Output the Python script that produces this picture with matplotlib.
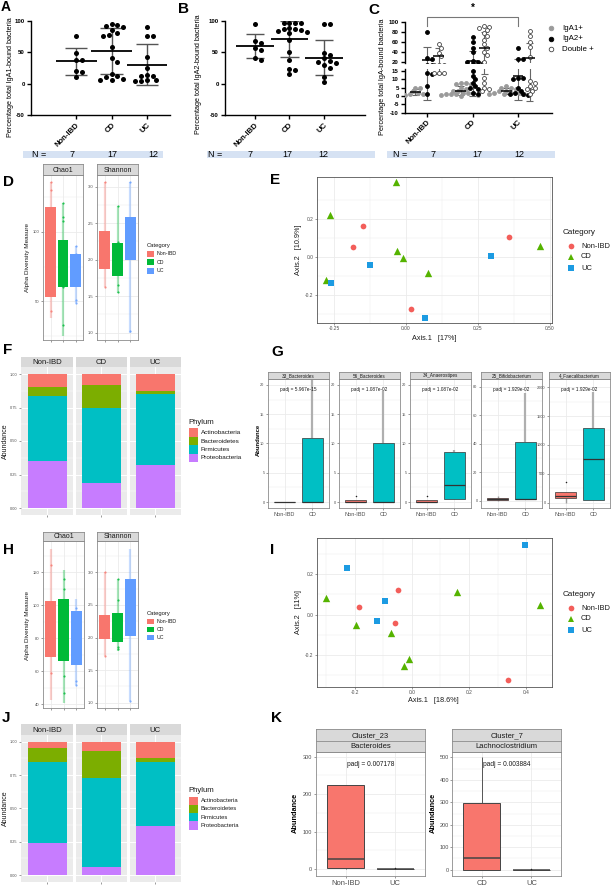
import numpy as np
import matplotlib
matplotlib.use('Agg')
import matplotlib.pyplot as plt
from matplotlib.patches import Rectangle
from matplotlib.lines import Line2D
from matplotlib.ticker import FixedLocator

plt.rcParams['font.family'] = ['Liberation Sans', 'DejaVu Sans']

# ======================= DATA =======================
categories = ['Non-IBD', 'CD', 'UC']
group_n = ['7', '17', '12']

# A: percentage total IgA1-bound bacteria
iga1_nonibd = [75, 49, 37, 37, 20, 19, 10]
iga1_cd = [95, 93, 92, 90, 85, 80, 78, 76, 58, 40, 35, 15, 12, 10, 8, 6, 5]
iga1_uc = [90, 75, 75, 42, 25, 13, 12, 12, 5, 4, 4, 5]
# B: percentage total IgA2-bound bacteria
iga2_nonibd = [95, 68, 64, 57, 53, 40, 38]
iga2_cd = [97, 97, 97, 96, 88, 87, 87, 85, 83, 82, 80, 70, 50, 38, 23, 22, 15]
iga2_uc = [95, 94, 49, 45, 40, 36, 35, 33, 30, 25, 10, 2]
# C: IgA1+, IgA2+, Double+
c_iga1_nonibd = [5, 4.5, 3, 2, 1.5, 1, 0.5]
c_iga1_cd = [8, 8, 7, 7, 5, 4, 3, 3, 2, 2, 2, 1, 1, 1, 0.5, 0.5, 0]
c_iga1_uc = [6, 5, 5, 4, 3, 3, 2, 2, 2, 1, 1, 1]
c_iga2_nonibd = [80, 28, 25, 14, 13, 6, 1]
c_iga2_cd = [71, 60, 48, 40, 22, 20, 19, 18, 15, 12, 10, 8, 6, 5, 4, 2, 1]
c_iga2_uc = [48, 26, 25, 11, 11, 10, 5, 3, 2, 1, 1, 0.5]
c_dbl_nonibd = [55, 48, 38, 32, 14, 14, 14]
c_dbl_cd = [92, 91, 88, 85, 78, 72, 65, 55, 48, 40, 34, 20, 11, 8, 5, 4, 3]
c_dbl_uc = [82, 73, 60, 50, 30, 9, 8, 6, 5, 4, 3, 1]
c_series = ['IgA1+', 'IgA2+', 'Double +']

# D: alpha diversity (cohort 1)
d_chao1_q1 = [53, 60, 60]
d_chao1_q3 = [118, 94, 84]
d_chao1_lo = [38, 25, 49]
d_chao1_hi = [136, 121, 90]
d_chao1_pts = [[136, 130, 43], [121, 111, 108, 60, 33], [90, 84, 51, 49]]
d_shan_q1 = [1.87, 1.77, 2.0]
d_shan_q3 = [2.39, 2.23, 2.58]
d_shan_lo = [1.63, 1.55, 1.0]
d_shan_hi = [3.07, 2.74, 3.07]
d_shan_pts = [[3.07, 1.63], [2.74, 2.24, 1.65, 1.56], [3.07, 1.02]]

# E: PCoA (cohort 1)
e_nonibd_x = [-0.149, -0.184, 0.358, 0.017]
e_nonibd_y = [0.165, 0.054, 0.104, -0.275]
e_cd_x = [-0.036, -0.264, -0.030, -0.010, 0.077, -0.279, 0.464]
e_cd_y = [0.396, 0.221, 0.033, -0.004, -0.083, -0.121, 0.058]
e_uc_x = [-0.125, -0.26, 0.294, 0.066]
e_uc_y = [-0.042, -0.139, 0.005, -0.32]

# F / J: phylum relative abundance (Non-IBD, CD, UC)
phyla = ['Actinobacteria', 'Bacteroidetes', 'Firmicutes', 'Proteobacteria']
f_actino = [0.095, 0.085, 0.125]
f_bacter = [0.07, 0.17, 0.025]
f_firmic = [0.485, 0.558, 0.53]
f_proteo = [0.35, 0.187, 0.32]
j_actino = [0.05, 0.07, 0.12]
j_bacter = [0.10, 0.20, 0.03]
j_firmic = [0.613, 0.6675, 0.483]
j_proteo = [0.237, 0.0625, 0.367]

# G: differential taxa (Non-IBD vs CD); box stats q1, median, q3, low, high
g_titles = ['33_Bacteroides', '56_Bacteroides', '34_Anaerostipes', '25_Bifidobacterium', '4_Faecalibacterium']
g_padj = ['padj = 5.967e-15', 'padj = 1.087e-02', 'padj = 1.087e-02', 'padj = 1.929e-02', 'padj = 1.929e-02']
g_nonibd_stats = [[0, 0, 0, 0, 0], [0, 0.1, 0.3, 0, 0.3], [0, 0.1, 0.3, 0, 0.3], [0.3, 1, 2.1, 0, 3.5], [81, 120, 190, 0, 190]]
g_nonibd_out = [[], [1.0], [1.0], [], [367]]
g_cd_stats = [[0, 0, 11, 0, 30], [0, 0, 10, 0, 19], [0.5, 3, 8.5, 0.5, 8.9], [1, 1, 41, 1, 76], [50, 750, 1298, 50, 1919]]
g_ylims = [(-1, 21), (-1, 21), (-1, 21), (-5, 85.5), (-90, 2140)]
g_yticks = [[0, 5, 10, 15, 20], [0, 5, 10, 15, 20], [0, 5, 10, 15, 20], [0, 20, 40, 60, 80], [0, 500, 1000, 1500, 2000]]

# H: alpha diversity (cohort 2)
h_chao1_q1 = [68.7, 66.3, 64]
h_chao1_q3 = [102.7, 103.8, 96.7]
h_chao1_lo = [42.5, 41, 52]
h_chao1_hi = [134, 121, 104]
h_chao1_pts = [[124, 59], [116, 110, 57, 47], [98, 54, 52]]
h_shan_q1 = [1.98, 1.93, 2.03]
h_shan_q3 = [2.34, 2.38, 2.9]
h_shan_lo = [1.72, 1.8, 1.02]
h_shan_hi = [3.0, 2.9, 3.36]
h_shan_pts = [[3.0, 1.72], [2.9, 2.57, 1.85, 1.82], [1.02]]

# I: PCoA (cohort 2)
i_nonibd_x = [-0.184, -0.049, -0.061, 0.337]
i_nonibd_y = [0.035, 0.12, -0.044, -0.324]
i_cd_x = [-0.3, 0.158, 0.449, -0.196, -0.074, -0.012, -0.029]
i_cd_y = [0.084, 0.11, 0.046, -0.053, -0.089, -0.221, -0.255]
i_uc_x = [-0.228, -0.094, 0.396, -0.124]
i_uc_y = [0.232, 0.067, 0.342, -0.032]

# K: clusters
k_titles = [('Cluster_23', 'Bacteroides'), ('Cluster_7', 'Lachnoclostridium')]
k_cats = [['Non-IBD', 'UC'], ['CD', 'UC']]
k_padj = ['padj = 0.007178', 'padj = 0.003884']
k_box1_stats = [[3, 28, 225, 0, 225], [0, 0, 0, 0, 0]]
k_box2_stats = [[0, 52, 298, 0, 502], [0, 0, 0, 0, 0]]
k_ylims = [(-18, 313), (-28, 525)]
k_yticks = [[0, 100, 200, 300], [0, 100, 200, 300, 400, 500]]

# ======================= STYLE =======================
GG3 = ['#F8766D', '#00BA38', '#619CFF']
PCOA = ['#F35E5A', '#55B300', '#1C9BE2']
PHY = ['#F8766D', '#7CAE00', '#00BFC4', '#C77CFF']

W, H = 615, 886
fig = plt.figure(figsize=(W / 100, H / 100), dpi=100)


def add_ax(x0, y0, x1, y1):
    return fig.add_axes([x0 / W, 1 - y1 / H, (x1 - x0) / W, (y1 - y0) / H])


def ftext(x, y, s, **kw):
    return fig.text(x / W, 1 - y / H, s, **kw)


def frect(x0, y0, x1, y1, color):
    fig.add_artist(Rectangle((x0 / W, 1 - y1 / H), (x1 - x0) / W, (y1 - y0) / H,
                             transform=fig.transFigure, facecolor=color, edgecolor='none'))


def fmark(x, y, **kw):
    fig.add_artist(Line2D([x / W], [1 - y / H], transform=fig.transFigure, linestyle='none', **kw))


def swarm(ypx, sx, d, step=0.55):
    ypx = np.asarray(ypx, float)
    order = np.argsort(ypx)[::-1]
    placed = []
    off = np.zeros(len(ypx))
    cands = [0.0]
    for k in range(1, 40):
        cands += [k * d * step, -k * d * step]
    for idx in order:
        y = ypx[idx]
        for c in cands:
            if all((c - px) ** 2 + (y - py) ** 2 >= (0.9 * d) ** 2 for px, py in placed):
                break
        placed.append((c, y))
        off[idx] = c / sx
    return off


def prism_axes(ax):
    for s in ['top', 'right']:
        ax.spines[s].set_visible(False)
    for s in ['left', 'bottom']:
        ax.spines[s].set_linewidth(1.0)
    ax.tick_params(length=3, width=1.0, pad=1.5)


def prism_panel(ax, groups, xlim, mean_w, cap_w, px_per_x, px_per_y):
    ax.set_xlim(*xlim)
    ax.set_ylim(-50, 100)
    for i, vals in enumerate(groups):
        v = np.asarray(vals, float)
        off = swarm(v * px_per_y, px_per_x, 5.3)
        ax.scatter(i + 1 + off, v, s=13, color='black', lw=0, zorder=3, clip_on=False)
        m, sd = v.mean(), v.std(ddof=1)
        ax.hlines(m, i + 1 - mean_w / 2, i + 1 + mean_w / 2, color='black', lw=1.3, zorder=4)
        ax.vlines(i + 1, m - sd, m + sd, color='#555555', lw=1.0, zorder=2)
        ax.hlines([m - sd, m + sd], i + 1 - cap_w / 2, i + 1 + cap_w / 2, color='#555555', lw=1.0, zorder=2)
    ax.set_yticks([-50, 0, 50, 100])
    ax.set_yticklabels(['-50', '0', '50', '100'], fontsize=4.4, fontweight='bold')
    ax.set_xticks([1, 2, 3])
    ax.set_xticklabels(categories, rotation=45, ha='right', va='top', rotation_mode='anchor',
                       fontsize=5.6, fontweight='bold')
    prism_axes(ax)


def gg_axes(ax, bg='white', grid='#EBEBEB', border='#8C8C8C', blw=0.6, fs=3.0, major_lw=0.6, minor_lw=0.3):
    ax.set_facecolor(bg)
    ax.set_axisbelow(True)
    ax.grid(True, which='major', color=grid, lw=major_lw)
    ax.grid(True, which='minor', color=grid, lw=minor_lw)
    for s in ax.spines.values():
        if border is None:
            s.set_visible(False)
        else:
            s.set_color(border)
            s.set_linewidth(blw)
    ax.tick_params(which='major', length=1.5, width=0.4, color='#4D4D4D', labelcolor='#4D4D4D',
                   labelsize=fs, pad=1)
    ax.tick_params(which='minor', length=0)


def strip(x0, y0, x1, y1, text, fs, border='#8C8C8C'):
    s = add_ax(x0, y0, x1, y1)
    s.set_facecolor('#D9D9D9')
    s.set_xticks([])
    s.set_yticks([])
    for sp in s.spines.values():
        if border:
            sp.set_color(border)
            sp.set_linewidth(0.6)
        else:
            sp.set_visible(False)
    s.text(0.5, 0.45, text, ha='center', va='center', fontsize=fs, color='#1A1A1A', transform=s.transAxes)
    return s


def alpha_panel(ax, q1, q3, lo, hi, pts, ylim, yticks, ylabels, minor):
    ax.set_xlim(0.4, 3.6)
    ax.set_ylim(*ylim)
    ax.set_xticks([1, 2, 3])
    ax.set_xticklabels(['', '', ''])
    ax.set_yticks(yticks)
    ax.set_yticklabels(ylabels)
    ax.yaxis.set_minor_locator(FixedLocator(minor))
    gg_axes(ax, fs=3.0)
    for i in range(3):
        ax.vlines(i + 1, lo[i], hi[i], color=GG3[i], alpha=0.35, lw=1.6, zorder=2)
        ax.bar(i + 1, q3[i] - q1[i], bottom=q1[i], width=0.82, color=GG3[i], zorder=3)
        ax.scatter(np.full(len(pts[i]), i + 1), pts[i], s=2.5, color=GG3[i], alpha=0.8, lw=0, zorder=4)


def category_legend(x, y, fs_title, fs, dy):
    ftext(x, y, 'Category', fontsize=fs_title, va='center', ha='left', color='#1A1A1A')
    for i, c in enumerate(categories):
        yy = y + (i + 1) * dy
        frect(x, yy - dy * 0.35, x + 6.5, yy + dy * 0.35, GG3[i])
        ftext(x + 10, yy, c, fontsize=fs, va='center', ha='left', color='#1A1A1A')


def pcoa(ax, xs, ys, xlim, ylim, xt, xtl, yt, ytl, xmin_, ymin_):
    markers = ['o', '^', 's']
    sizes = [17, 28, 17]
    for i in range(3):
        ax.scatter(xs[i], ys[i], marker=markers[i], s=sizes[i], color=PCOA[i], lw=0, zorder=3)
    ax.set_xlim(*xlim)
    ax.set_ylim(*ylim)
    ax.set_xticks(xt)
    ax.set_xticklabels(xtl)
    ax.set_yticks(yt)
    ax.set_yticklabels(ytl)
    ax.xaxis.set_minor_locator(FixedLocator(xmin_))
    ax.yaxis.set_minor_locator(FixedLocator(ymin_))
    gg_axes(ax, border='#555555', fs=3.5)


def pcoa_legend(x, y):
    ftext(x - 4, y, 'Category', fontsize=5.9, va='center', ha='left', color='#1A1A1A')
    markers = ['o', '^', 's']
    ms = [4.1, 5.0, 4.1]
    for i, c in enumerate(categories):
        yy = y + 14 + i * 11
        fmark(x + 4, yy, marker=markers[i], markersize=ms[i], color=PCOA[i], markeredgewidth=0)
        ftext(x + 14, yy, c, fontsize=5.4, va='center', ha='left', color='#1A1A1A')


def phylum_facets(y0, y1, sy0, vals, leg_x, leg_y, key_h, leg_fs, title_fs):
    xs = [(21, 73), (75.5, 127), (129.5, 181)]
    for g in range(3):
        ax = add_ax(xs[g][0], y0, xs[g][1], y1)
        bottom = 0.0
        for p in [3, 2, 1, 0]:
            ax.bar(1, vals[p][g], bottom=bottom, width=0.9, color=PHY[p], zorder=3)
            bottom += vals[p][g]
        ax.set_xlim(0.4, 1.6)
        ax.set_ylim(-0.05, 1.05)
        ax.set_xticks([1])
        ax.set_xticklabels([''])
        ax.set_yticks([0, 0.25, 0.5, 0.75, 1.0])
        ax.yaxis.set_minor_locator(FixedLocator([0.125, 0.375, 0.625, 0.875]))
        gg_axes(ax, bg='#EBEBEB', grid='white', border=None, fs=2.8, major_lw=0.7, minor_lw=0.35)
        if g == 0:
            ax.set_yticklabels(['0.00', '0.25', '0.50', '0.75', '1.00'])
        else:
            ax.set_yticklabels([])
            ax.tick_params(axis='y', length=0)
        strip(xs[g][0], sy0, xs[g][1], y0, categories[g], 5.6, border=None)
    ftext(5, (y0 + y1) / 2, 'Abundance', rotation=90, fontsize=5.0, va='center', ha='center', color='#1A1A1A')
    ftext(leg_x, leg_y, 'Phylum', fontsize=title_fs, va='center', ha='left', color='#1A1A1A')
    for i, ph in enumerate(phyla):
        top = leg_y + 6.5 + i * key_h
        frect(leg_x + 1, top, leg_x + 10, top + key_h, PHY[i])
        ftext(leg_x + 12.5, top + key_h / 2, ph, fontsize=leg_fs, va='center', ha='left', color='#1A1A1A')


def box(ax, x, st, fill, wcol, wlw, edge='#333333', elw=0.5, outl=()):
    q1, med, q3, lo, hi = st
    ax.vlines(x, q3, hi, color=wcol, lw=wlw, zorder=2)
    ax.vlines(x, lo, q1, color=wcol, lw=wlw, zorder=2)
    ax.add_patch(Rectangle((x - 0.375, q1), 0.75, q3 - q1, facecolor=fill, edgecolor=edge, lw=elw, zorder=3))
    ax.hlines(med, x - 0.375, x + 0.375, color=edge, lw=elw + 0.4, zorder=4)
    if len(outl):
        ax.scatter(np.full(len(outl), x), outl, s=1.2, color='#222222', lw=0, zorder=5)


# ======================= PANELS A, B =======================
axA = add_ax(31, 20.7, 170, 115)
prism_panel(axA, [iga1_nonibd, iga1_cd, iga1_uc], (-0.276, 3.65), 1.15, 0.63, 35.5, 0.629)
ftext(10.5, 77, 'Percentage total IgA1-bound bacteria', rotation=90, fontsize=5.2, va='center', ha='center')

axB = add_ax(225, 20.7, 365, 115)
prism_panel(axB, [iga2_nonibd, iga2_cd, iga2_uc], (0.13, 4.19), 1.1, 0.53, 34.5, 0.629)
ftext(198, 74, 'Percentage total IgA2-bound bacteria', rotation=90, fontsize=5.2, va='center', ha='center')

# ======================= PANEL C =======================
axCt = add_ax(405, 22.3, 552, 63.2)
axCb = add_ax(405, 69.3, 552, 112.7)
c_groups = [[c_iga1_nonibd, c_iga1_cd, c_iga1_uc],
            [c_iga2_nonibd, c_iga2_cd, c_iga2_uc],
            [c_dbl_nonibd, c_dbl_cd, c_dbl_uc]]
c_offsets = [-0.26, 0.0, 0.26]
c_face = ['#9A9A9A', 'black', 'white']
c_edge = ['#9A9A9A', 'black', '#444444']


def c_ypx(v):
    v = np.asarray(v, float)
    return np.where(v < 16, v * 1.669, 16 * 1.669 + 6 + (v - 16) * 0.4928)


for s_i, series in enumerate(c_groups):
    for g, vals in enumerate(series):
        v = np.asarray(vals, float)
        off = swarm(c_ypx(v), 45.5, 4.2, step=0.6)
        x0 = g + 1 + c_offsets[s_i]
        m, sd = v.mean(), v.std(ddof=1)
        for ax in (axCt, axCb):
            ax.scatter(x0 + off, v, s=8, facecolor=c_face[s_i], edgecolor=c_edge[s_i], lw=0.6, zorder=3)
            ax.hlines(m, x0 - 0.12, x0 + 0.12, color='black', lw=1.1, zorder=4)
            ax.vlines(x0, m - sd, m + sd, color='#666666', lw=0.8, zorder=2)
            ax.hlines([m - sd, m + sd], x0 - 0.08, x0 + 0.08, color='#666666', lw=0.8, zorder=2)

for ax in (axCt, axCb):
    ax.set_xlim(0.516, 3.747)
    prism_axes(ax)
axCt.set_ylim(17, 100)
axCb.set_ylim(-10, 16)
axCt.spines['bottom'].set_visible(False)
axCt.set_xticks([])
axCt.set_yticks([20, 40, 60, 80, 100])
axCt.set_yticklabels(['20', '40', '60', '80', '100'], fontsize=4.4, fontweight='bold')
axCb.set_yticks([-10, -5, 0, 5, 10, 15])
axCb.set_yticklabels(['-10', '-5', '0', '5', '10', '15'], fontsize=4.4, fontweight='bold')
axCb.set_xticks([1, 2, 3])
axCb.set_xticklabels(categories, rotation=45, ha='right', va='top', rotation_mode='anchor',
                     fontsize=5.6, fontweight='bold')
axCt.plot([1, 1, 3, 3], [92.5, 111.4, 111.4, 92.5], color='#777777', lw=0.8, clip_on=False)
axCt.text(2, 129, '*', ha='center', va='center', fontsize=7, fontweight='bold')
ftext(383, 77, 'Percentage total IgA-bound bacteria', rotation=90, fontsize=5.3, va='center', ha='center')
for i, lab in enumerate(c_series):
    yy = 28.3 + i * 10.5
    fmark(550.7, yy, marker='o', markersize=3.3, markerfacecolor=c_face[i], markeredgecolor=c_edge[i],
          markeredgewidth=0.6)
    ftext(562, yy, lab, fontsize=5.7, va='center', ha='left')

# N = row
band_x = [(23, 163), (207, 375), (387, 555)]
n_lbl_x = [32, 208, 393]
n_pos = [[72, 112, 153], [250, 287, 323], [433, 477, 519]]
for b in range(3):
    frect(band_x[b][0], 150.7, band_x[b][1], 158.3, '#D6E2F3')
    ftext(n_lbl_x[b], 154.5, 'N =', fontsize=6.5, va='center', ha='left')
    for k in range(3):
        ftext(n_pos[b][k], 154.5, group_n[k], fontsize=6.5, va='center', ha='center')

# ======================= PANEL D =======================
axD1 = add_ax(43, 175, 83, 340)
alpha_panel(axD1, d_chao1_q1, d_chao1_q3, d_chao1_lo, d_chao1_hi, d_chao1_pts, (22, 141),
            [50, 100], ['50', '100'], [25, 75, 125])
strip(43, 164, 83, 175, 'Chao1', 5.0)
axD2 = add_ax(97, 175, 138, 340)
alpha_panel(axD2, d_shan_q1, d_shan_q3, d_shan_lo, d_shan_hi, d_shan_pts, (0.9, 3.16),
            [1.0, 1.5, 2.0, 2.5, 3.0], ['1.0', '1.5', '2.0', '2.5', '3.0'], [1.25, 1.75, 2.25, 2.75])
strip(97, 164, 138, 175, 'Shannon', 5.0)
ftext(28, 258, 'Alpha Diversity Measure', rotation=90, fontsize=4.6, va='center', ha='center', color='#1A1A1A')
category_legend(147, 245.5, 4.2, 3.8, 8.4)

# ======================= PANEL E =======================
axE = add_ax(317, 177, 552, 323)
pcoa(axE, [e_nonibd_x, e_cd_x, e_uc_x], [e_nonibd_y, e_cd_y, e_uc_y], (-0.309, 0.507), (-0.347, 0.42),
     [-0.25, 0, 0.25, 0.5], ['-0.25', '0.00', '0.25', '0.50'], [-0.2, 0, 0.2], ['-0.2', '0.0', '0.2'],
     [-0.125, 0.125, 0.375], [-0.3, -0.1, 0.1, 0.3])
ftext(434, 339, 'Axis.1   [17%]', fontsize=5.2, va='center', ha='center', color='#1A1A1A')
ftext(298, 250, 'Axis.2   [10.9%]', rotation=90, fontsize=5.2, va='center', ha='center', color='#1A1A1A')
pcoa_legend(567, 232)

# ======================= PANEL F =======================
phylum_facets(367.3, 514.7, 357, [f_actino, f_bacter, f_firmic, f_proteo], 188, 422, 8.4, 4.6, 5.6)

# ======================= PANEL G =======================
g_x = [(268, 329), (339, 400), (410, 471), (481, 542), (549, 610)]
for p in range(5):
    ax = add_ax(g_x[p][0], 379, g_x[p][1], 508)
    ax.set_xlim(0.4, 2.6)
    ax.set_ylim(*g_ylims[p])
    box(ax, 1, g_nonibd_stats[p], '#F8766D', '#9E9E9E', 1.0, outl=g_nonibd_out[p])
    box(ax, 2, g_cd_stats[p], '#00BFC4', '#AFAFAF', 1.6)
    ax.set_xticks([1, 2])
    ax.set_xticklabels(['Non-IBD', 'CD'])
    ax.set_yticks(g_yticks[p])
    ax.set_yticklabels([str(t) for t in g_yticks[p]])
    yt = g_yticks[p]
    ax.yaxis.set_minor_locator(FixedLocator([(yt[k] + yt[k + 1]) / 2 for k in range(len(yt) - 1)]))
    gg_axes(ax, border='#8C8C8C', fs=2.8)
    ax.tick_params(axis='x', labelsize=4.0, pad=1.2)
    ax.text(0.5, 0.915, g_padj[p], transform=ax.transAxes, ha='center', va='center', fontsize=3.4, color='#1A1A1A')
    strip(g_x[p][0], 371.7, g_x[p][1], 379, g_titles[p], 3.3)
ftext(258, 440, 'Abundance', rotation=90, fontsize=4.2, fontweight='bold', va='center', ha='center')

# ======================= PANEL H =======================
axH1 = add_ax(43, 541, 84, 708)
alpha_panel(axH1, h_chao1_q1, h_chao1_q3, h_chao1_lo, h_chao1_hi, h_chao1_pts, (37.8, 138.8),
            [40, 60, 80, 100, 120], ['40', '60', '80', '100', '120'], [50, 70, 90, 110, 130])
strip(43, 532, 84, 541, 'Chao1', 5.0)
axH2 = add_ax(97, 541, 138, 708)
alpha_panel(axH2, h_shan_q1, h_shan_q3, h_shan_lo, h_shan_hi, h_shan_pts, (0.92, 3.48),
            [1.0, 1.5, 2.0, 2.5, 3.0], ['1.0', '1.5', '2.0', '2.5', '3.0'], [1.25, 1.75, 2.25, 2.75, 3.25])
strip(97, 532, 138, 541, 'Shannon', 5.0)
ftext(28, 625, 'Alpha Diversity Measure', rotation=90, fontsize=4.6, va='center', ha='center', color='#1A1A1A')
category_legend(147, 613.3, 4.2, 3.8, 8.0)

# ======================= PANEL I =======================
axI = add_ax(317, 538, 552, 687)
pcoa(axI, [i_nonibd_x, i_cd_x, i_uc_x], [i_nonibd_y, i_cd_y, i_uc_y], (-0.333, 0.491), (-0.358, 0.378),
     [-0.2, 0, 0.2, 0.4], ['-0.2', '0.0', '0.2', '0.4'], [-0.2, 0, 0.2], ['-0.2', '0.0', '0.2'],
     [-0.3, -0.1, 0.1, 0.3], [-0.3, -0.1, 0.1, 0.3])
ftext(433, 700, 'Axis.1   [18.6%]', fontsize=5.2, va='center', ha='center', color='#1A1A1A')
ftext(298, 612, 'Axis.2   [11%]', rotation=90, fontsize=5.2, va='center', ha='center', color='#1A1A1A')
pcoa_legend(567, 594)

# ======================= PANEL J =======================
phylum_facets(735, 881.7, 724, [j_actino, j_bacter, j_firmic, j_proteo], 188, 790, 8.3, 4.2, 5.6)

# ======================= PANEL K =======================
k_x = [(315.7, 425), (452.3, 561)]
k_stats = [k_box1_stats, k_box2_stats]
k_ylab_x = [295, 433]
for p in range(2):
    ax = add_ax(k_x[p][0], 751.7, k_x[p][1], 876)
    ax.set_xlim(0.4, 2.6)
    ax.set_ylim(*k_ylims[p])
    box(ax, 1, k_stats[p][0], '#F8766D', '#555555', 0.7, edge='#444444', elw=0.7)
    box(ax, 2, k_stats[p][1], '#F8766D', '#555555', 0.7, edge='#444444', elw=0.7, outl=[3])
    ax.set_xticks([1, 2])
    ax.set_xticklabels(k_cats[p])
    yt = k_yticks[p]
    ax.set_yticks(yt)
    ax.set_yticklabels([str(t) for t in yt])
    ax.yaxis.set_minor_locator(FixedLocator([(yt[k] + yt[k + 1]) / 2 for k in range(len(yt) - 1)]))
    gg_axes(ax, border='#8C8C8C', fs=4.0)
    ax.tick_params(axis='x', labelsize=5.4, pad=1.5)
    ax.text(0.5, 0.9, k_padj[p], transform=ax.transAxes, ha='center', va='center', fontsize=4.8, color='#1A1A1A')
    strip(k_x[p][0], 729, k_x[p][1], 740.7, k_titles[p][0], 5.5)
    strip(k_x[p][0], 740.7, k_x[p][1], 751.7, k_titles[p][1], 5.5)
    ftext(k_ylab_x[p], 813, 'Abundance', rotation=90, fontsize=5.3, fontweight='bold', va='center', ha='center')

# ======================= PANEL LETTERS =======================
letters = ['A', 'B', 'C', 'D', 'E', 'F', 'G', 'H', 'I', 'J', 'K']
letter_x = [1, 178, 368, 3, 270, 3, 271, 3, 270, 2, 271]
letter_y = [7, 9, 10, 182, 180, 350, 352, 550, 550, 718, 718]
letter_fs = [10, 11, 11, 11, 11, 11, 11, 11, 11, 11, 11]
for L, lx, ly, lf in zip(letters, letter_x, letter_y, letter_fs):
    ftext(lx, ly, L, fontsize=lf, fontweight='bold', va='center', ha='left')

fig.savefig('out.png', dpi=100)
